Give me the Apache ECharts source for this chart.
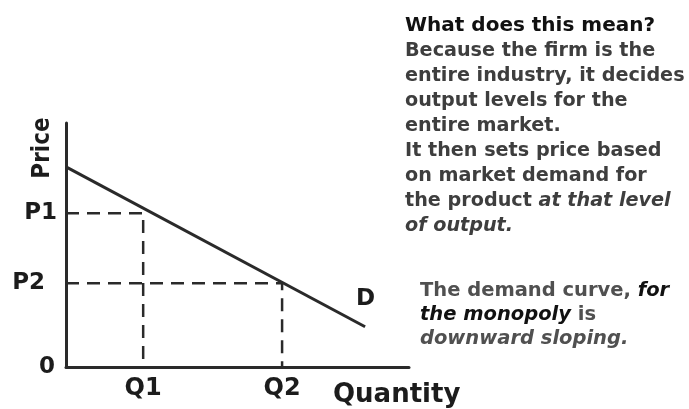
<!DOCTYPE html>
<html>
<head>
<meta charset="utf-8">
<script src="https://cdn.jsdelivr.net/npm/echarts@6/dist/echarts.min.js"></script>
<style>
html,body{margin:0;padding:0;background:#fff;}
#c{width:689px;height:409px;}
</style>
</head>
<body>
<div id="c"></div>
<script>
// ---- data ----
const quantityMax = 10;
const priceMax = 10;
const demandQuantity = [0, 8.72];
const demandPrice = [8.2, 1.65];
const quantityLevels = [2.25, 6.3];      // Q1, Q2
const priceLevels = [6.3, 3.43];         // P1, P2
const quantityLabels = ['Q1', 'Q2'];
const priceLabels = ['P1', 'P2'];
const originLabel = '0';
const demandLabel = 'D';
const xName = 'Quantity';
const yName = 'Price';
const noteTop = [
  [['h', 'What does this mean?']],
  [['g', 'Because the firm is the']],
  [['g', 'entire industry, it decides']],
  [['g', 'output levels for the']],
  [['g', 'entire market.']],
  [['g', 'It then sets price based']],
  [['g', 'on market demand for']],
  [['g', 'the product '], ['gi', 'at that level']],
  [['gi', 'of output.']]
];
const noteBottom = [
  [['g2', 'The demand curve, '], ['bi', 'for']],
  [['bi', 'the monopoly'], ['g2', ' is']],
  [['g2i', 'downward sloping.']]
];

// ---- chart ----
const FONT = 'DejaVu Sans';
const INK = '#2a2a2a';
const LABEL = '#1c1c1c';

function toRich(lines) {
  return lines.map(l => l.map(([s, t]) => '{' + s + '|' + t + '}').join('')).join('\n');
}

const demandData = demandQuantity.map((q, i) => [q, demandPrice[i]]);
const guideSeries = quantityLevels.map((q, i) => ({
  type: 'line',
  data: [[0, priceLevels[i]], [q, priceLevels[i]], [q, 0]],
  symbol: 'none',
  silent: true,
  lineStyle: { color: INK, width: 2.5, type: [13, 8] },
  z: 2
}));

const chart = echarts.init(document.getElementById('c'), null, { renderer: 'canvas' });
const baseStyle = { fontFamily: FONT, fontSize: 19.2, fontWeight: 'bold', lineHeight: 25 };
chart.setOption({
  animation: false,
  backgroundColor: '#fff',
  grid: { left: 66, right: 280, top: 123, bottom: 42 },
  xAxis: {
    type: 'value', min: 0, max: quantityMax,
    splitLine: { show: false },
    axisTick: { show: false },
    axisLine: { show: true, lineStyle: { color: INK, width: 3 } },
    axisLabel: {
      customValues: quantityLevels,
      formatter: v => quantityLabels[quantityLevels.indexOf(v)] || '',
      margin: 10,
      color: LABEL, fontFamily: FONT, fontWeight: 'bold', fontSize: 24
    },
    name: xName,
    nameLocation: 'end',
    nameGap: -76,
    nameTextStyle: {
      align: 'left', verticalAlign: 'top', padding: [15, 0, 0, 0],
      color: LABEL, fontFamily: FONT, fontWeight: 'bold', fontSize: 26
    }
  },
  yAxis: {
    type: 'value', min: 0, max: priceMax,
    splitLine: { show: false },
    axisTick: { show: false },
    axisLine: { show: true, lineStyle: { color: INK, width: 3 } },
    axisLabel: {
      customValues: [0].concat(priceLevels),
      formatter: v => {
        if (v === 0) return '{o|' + originLabel + '}';
        const i = priceLevels.indexOf(v);
        return i === 1 ? '{p2|' + priceLabels[i] + '}' : '{p1|' + priceLabels[i] + '}';
      },
      margin: 9,
      color: LABEL, fontFamily: FONT, fontWeight: 'bold', fontSize: 23,
      rich: {
        o: { fontFamily: FONT, fontWeight: 'bold', fontSize: 23, color: LABEL, padding: [0, 2, 0, 0] },
        p1: { fontFamily: FONT, fontWeight: 'bold', fontSize: 23, color: LABEL },
        p2: { fontFamily: FONT, fontWeight: 'bold', fontSize: 23, color: LABEL, padding: [0, 12, 0, 0] }
      }
    },
    name: yName,
    nameLocation: 'end',
    nameRotate: 90,
    nameGap: -25,
    nameTextStyle: {
      align: 'center', verticalAlign: 'bottom', padding: [0, 0, 11, 0],
      color: LABEL, fontFamily: "'Liberation Sans Narrow', 'DejaVu Sans Condensed', 'DejaVu Sans'",
      fontWeight: 'bold', fontSize: 24
    }
  },
  series: [
    {
      type: 'line',
      data: demandData,
      symbol: 'none',
      silent: true,
      lineStyle: { color: INK, width: 3 },
      z: 3,
      endLabel: {
        show: true, formatter: demandLabel, offset: [-17, -28],
        color: LABEL, fontFamily: FONT, fontWeight: 'bold', fontSize: 23
      }
    }
  ].concat(guideSeries),
  graphic: [
    {
      type: 'text', left: 405, top: 16,
      style: {
        text: toRich(noteTop),
        rich: {
          h: Object.assign({}, baseStyle, { fontSize: 20, fill: '#111' }),
          g: Object.assign({}, baseStyle, { fill: '#3e3e3e' }),
          gi: Object.assign({}, baseStyle, { fill: '#3e3e3e', fontStyle: 'italic' })
        }
      }
    },
    {
      type: 'text', left: 420, top: 281,
      style: {
        text: toRich(noteBottom),
        rich: {
          g2: Object.assign({}, baseStyle, { fontSize: 19.5, lineHeight: 24, fill: '#505050' }),
          g2i: Object.assign({}, baseStyle, { fontSize: 19.5, lineHeight: 24, fill: '#505050', fontStyle: 'italic' }),
          bi: Object.assign({}, baseStyle, { fontSize: 19.5, lineHeight: 24, fill: '#111', fontStyle: 'italic' })
        }
      }
    }
  ]
});
</script>
</body>
</html>
